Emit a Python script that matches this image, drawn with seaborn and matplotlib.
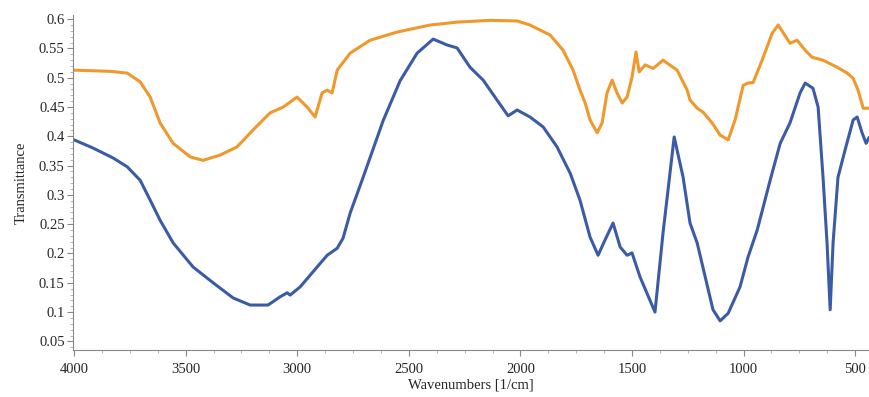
import pandas as pd
import matplotlib
matplotlib.use("Agg")
import matplotlib.pyplot as plt
from matplotlib.ticker import MultipleLocator, FixedLocator
import seaborn as sns

# Wavenumbers (cm-1) and transmittance
blue_wn = [4000, 3915, 3825, 3762, 3704, 3659, 3615, 3556, 3467, 3377,
           3287, 3211, 3131, 3077, 3045, 3032, 2987, 2911, 2866, 2821,
           2795, 2763, 2705, 2615, 2539, 2463, 2391, 2329, 2284, 2226,
           2167, 2105, 2055, 2015, 1957, 1898, 1836, 1777, 1733, 1688,
           1652, 1621, 1585, 1553, 1522, 1500, 1464, 1397, 1361, 1311,
           1271, 1240, 1208, 1172, 1137, 1105, 1069, 1016, 980, 939,
           881, 836, 792, 747, 724, 689, 666, 644, 626, 612,
           599, 577, 545, 509, 491, 469, 451, 438]
blue_t = [0.394, 0.380, 0.363, 0.348, 0.325, 0.291, 0.257, 0.218, 0.177, 0.150,
          0.124, 0.112, 0.112, 0.126, 0.133, 0.129, 0.143, 0.177, 0.197, 0.209,
          0.226, 0.269, 0.330, 0.427, 0.495, 0.542, 0.566, 0.556, 0.551, 0.518,
          0.496, 0.462, 0.435, 0.445, 0.433, 0.416, 0.382, 0.337, 0.291, 0.228,
          0.197, 0.223, 0.252, 0.211, 0.197, 0.201, 0.160, 0.100, 0.235, 0.399,
          0.330, 0.252, 0.218, 0.160, 0.104, 0.085, 0.098, 0.143, 0.194, 0.240,
          0.325, 0.388, 0.423, 0.474, 0.491, 0.482, 0.450, 0.330, 0.218, 0.104,
          0.218, 0.330, 0.377, 0.428, 0.433, 0.406, 0.388, 0.398]

orange_wn = [4000, 3839, 3762, 3704, 3659, 3615, 3556, 3480, 3422, 3346,
             3270, 3198, 3122, 3063, 3001, 2956, 2920, 2889, 2866, 2844,
             2821, 2763, 2674, 2553, 2405, 2284, 2136, 2015, 1957, 1867,
             1809, 1764, 1733, 1710, 1688, 1656, 1634, 1612, 1589, 1567,
             1544, 1522, 1500, 1482, 1468, 1441, 1405, 1361, 1298, 1253,
             1240, 1208, 1181, 1141, 1105, 1069, 1038, 1002, 980, 957,
             917, 872, 845, 792, 760, 724, 693, 644, 581, 536,
             509, 487, 464, 438]
orange_t = [0.513, 0.511, 0.508, 0.493, 0.467, 0.423, 0.388, 0.365, 0.359, 0.368,
            0.382, 0.411, 0.440, 0.450, 0.467, 0.450, 0.433, 0.474, 0.479, 0.474,
            0.513, 0.542, 0.564, 0.578, 0.590, 0.595, 0.598, 0.597, 0.590, 0.573,
            0.547, 0.513, 0.479, 0.457, 0.428, 0.406, 0.423, 0.474, 0.496, 0.474,
            0.457, 0.467, 0.501, 0.544, 0.510, 0.522, 0.516, 0.530, 0.513, 0.479,
            0.462, 0.448, 0.441, 0.423, 0.402, 0.394, 0.428, 0.487, 0.491, 0.492,
            0.530, 0.576, 0.590, 0.559, 0.564, 0.547, 0.535, 0.530, 0.518, 0.508,
            0.499, 0.479, 0.448, 0.448]

x_ticks = [4000, 3500, 3000, 2500, 2000, 1500, 1000, 500]
y_ticks = [0.05, 0.1, 0.15, 0.2, 0.25, 0.3, 0.35, 0.4, 0.45, 0.5, 0.55, 0.6]
y_labels = ["0.05", "0.1", "0.15", "0.2", "0.25", "0.3", "0.35",
            "0.4", "0.45", "0.5", "0.55", "0.6"]

BLUE = "#3c5ba6"
ORANGE = "#f0982c"


def main():
    sns.set_style("ticks")
    plt.rcParams["font.family"] = ["Liberation Serif", "DejaVu Serif"]

    df_blue = pd.DataFrame({"wn": blue_wn, "t": blue_t})
    df_orange = pd.DataFrame({"wn": orange_wn, "t": orange_t})

    fig = plt.figure(figsize=(8.69, 3.97), dpi=100)
    ax = fig.add_axes([0.084, 0.118, 0.916, 0.844])

    sns.lineplot(data=df_orange, x="wn", y="t", color=ORANGE, lw=2.2,
                 sort=False, ax=ax)
    sns.lineplot(data=df_blue, x="wn", y="t", color=BLUE, lw=2.2,
                 sort=False, ax=ax)

    ax.set_xlim(4005, 438)
    ax.set_ylim(0.035, 0.607)

    ax.xaxis.set_major_locator(FixedLocator(x_ticks))
    ax.xaxis.set_minor_locator(MultipleLocator(125))
    ax.set_yticks(y_ticks)
    ax.set_yticklabels(y_labels)
    ax.yaxis.set_minor_locator(MultipleLocator(0.01))

    ax.tick_params(which="major", length=4, width=0.8, color="#888888",
                   labelsize=10.5, pad=2)
    ax.tick_params(axis="x", which="major", pad=5)
    ax.tick_params(which="minor", length=2, width=0.6, color="#aaaaaa")

    for side in ["top", "right"]:
        ax.spines[side].set_visible(False)
    for side in ["left", "bottom"]:
        ax.spines[side].set_color("#888888")
        ax.spines[side].set_linewidth(0.8)

    ax.set_xlabel("Wavenumbers [1/cm]", fontsize=10.5, labelpad=2)
    ax.set_ylabel("Transmittance", fontsize=10.5, labelpad=8)

    fig.savefig("out.png", dpi=100)


if __name__ == "__main__":
    main()
